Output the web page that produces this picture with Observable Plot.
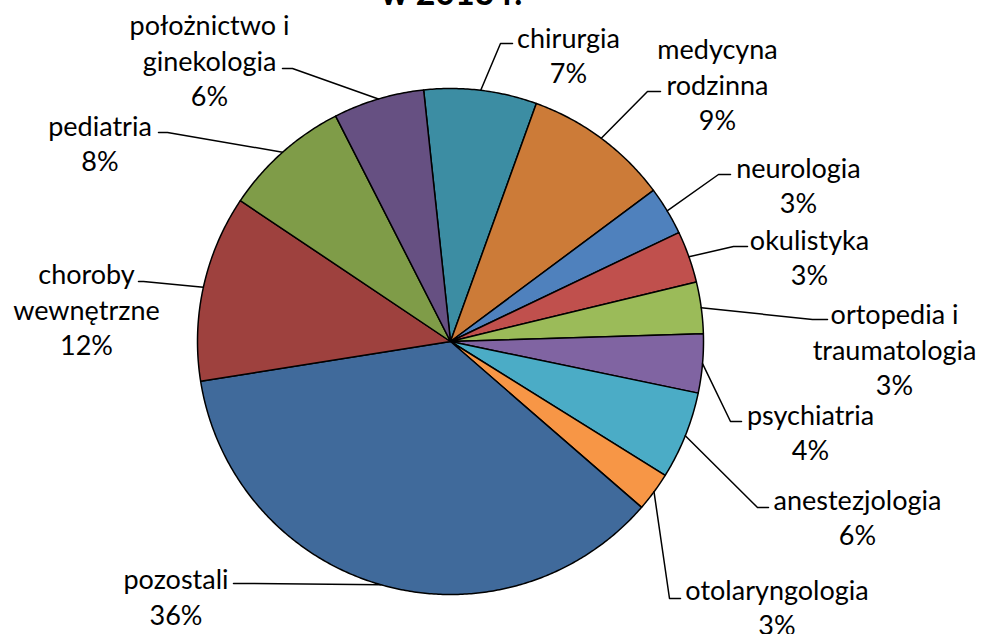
<!DOCTYPE html>
<html><head><meta charset="utf-8">
<script src="https://cdn.jsdelivr.net/npm/d3@7"></script>
<script src="https://cdn.jsdelivr.net/npm/@observablehq/plot@0.6"></script>
<style>html,body{margin:0;padding:0;background:#fff;overflow:hidden} #chart svg{display:block}</style>
</head><body><div id="chart"></div>
<script>
// ---- data ----
const categories = ["chirurgia", "medycyna rodzinna", "neurologia", "okulistyka", "ortopedia i traumatologia", "psychiatria", "anestezjologia", "otolaryngologia", "pozostali", "choroby wewnętrzne", "pediatria", "położnictwo i ginekologia"];
const labelNames = ["chirurgia", "medycyna\nrodzinna", "neurologia", "okulistyka", "ortopedia i\ntraumatologia", "psychiatria", "anestezjologia", "otolaryngologia", "pozostali", "choroby\nwewnętrzne", "pediatria", "położnictwo i\nginekologia"];
const shares = [7.2, 9.3, 3.1, 3.3, 3.3, 3.75, 5.6, 2.5, 36.1, 11.9, 8.1, 5.8];
const titleText = "w 2013 r.";

// ---- styles / layout ----
const colors = ["#3C8DA3", "#CC7B38", "#4F81BD", "#C0504D", "#9BBB59", "#8064A2", "#4BACC6", "#F79646", "#406A9B", "#9E413E", "#7F9C48", "#665082"];
const cx = 450, cy = 341, R = 253, startDeg = -6.1;
// label block centre (tx,ty), leader knee (kx,ky), leader end x (ex)
const labelLayout = [
  {tx: 568, ty: 53.5, kx: 500, ky: 43, ex: 512},
  {tx: 717, ty: 83, kx: 647, ky: 91, ex: 660},
  {tx: 798, ty: 183.5, kx: 718, ky: 174, ex: 730},
  {tx: 809, ty: 255.5, kx: 733, ky: 246, ex: 747},
  {tx: 894, ty: 348, kx: 812, ky: 319, ex: 827},
  {tx: 810, ty: 430.5, kx: 730, ky: 421, ex: 741},
  {tx: 857, ty: 515.5, kx: 757, ky: 507, ex: 768},
  {tx: 776.5, ty: 605.5, kx: 669, ky: 598, ex: 680},
  {tx: 175.5, ty: 595, kx: 250, ky: 583, ex: 233},
  {tx: 86, ty: 308, kx: 143, ky: 281, ex: 138},
  {tx: 99.5, ty: 141.5, kx: 167, ky: 132, ex: 158},
  {tx: 209, ty: 59, kx: 292, ky: 68, ex: 282}
];

const total = d3.sum(shares);
const start = startDeg * Math.PI / 180;
let acc = 0;
const slices = categories.map((name, i) => {
  const a0 = start + acc / total * 2 * Math.PI;
  acc += shares[i];
  const a1 = start + acc / total * 2 * Math.PI;
  return {name, a0, a1, color: colors[i], i};
});

const polyPts = slices.flatMap(s => {
  const pts = [{name: s.name, color: s.color, x: cx, y: cy}];
  const n = Math.max(4, Math.ceil((s.a1 - s.a0) / (Math.PI / 360)));
  for (let k = 0; k <= n; k++) {
    const a = s.a0 + (s.a1 - s.a0) * k / n;
    pts.push({name: s.name, color: s.color, x: cx + R * Math.sin(a), y: cy - R * Math.cos(a)});
  }
  return pts;
});

const leaderPts = slices.flatMap(s => {
  const L = labelLayout[s.i];
  const am = (s.a0 + s.a1) / 2;
  return [
    {name: s.name, x: cx + R * Math.sin(am), y: cy - R * Math.cos(am)},
    {name: s.name, x: L.kx, y: L.ky},
    {name: s.name, x: L.ex, y: L.ky}
  ];
});

const labels = slices.map(s => ({
  text: labelNames[s.i] + "\n" + Math.round(shares[s.i]) + "%",
  x: labelLayout[s.i].tx, y: labelLayout[s.i].ty
}));

const chart = Plot.plot({
  width: 984, height: 634, margin: 0,
  x: {domain: [0, 984], range: [0, 984], axis: null},
  y: {domain: [0, 634], range: [0, 634], axis: null},
  color: {type: "identity"},
  style: {fontFamily: "Lato, 'Open Sans', sans-serif", background: "#fff", overflow: "hidden"},
  marks: [
    Plot.line(polyPts, {x: "x", y: "y", z: "name", fill: "color", stroke: "#000", strokeWidth: 1.5, curve: "linear-closed", strokeLinejoin: "round"}),
    Plot.line(leaderPts, {x: "x", y: "y", z: "name", stroke: "#000", strokeWidth: 1.5}),
    Plot.text(labels, {x: "x", y: "y", text: "text", fontSize: 27, lineHeight: 1.31, fill: "#000", textAnchor: "middle", lineAnchor: "middle"}),
    Plot.text([titleText], {frameAnchor: "top", dx: -41, dy: 4, lineAnchor: "bottom", fontSize: 34, fontWeight: "bold", fill: "#000"})
  ]
});
document.getElementById("chart").appendChild(chart);
</script>
</body></html>
